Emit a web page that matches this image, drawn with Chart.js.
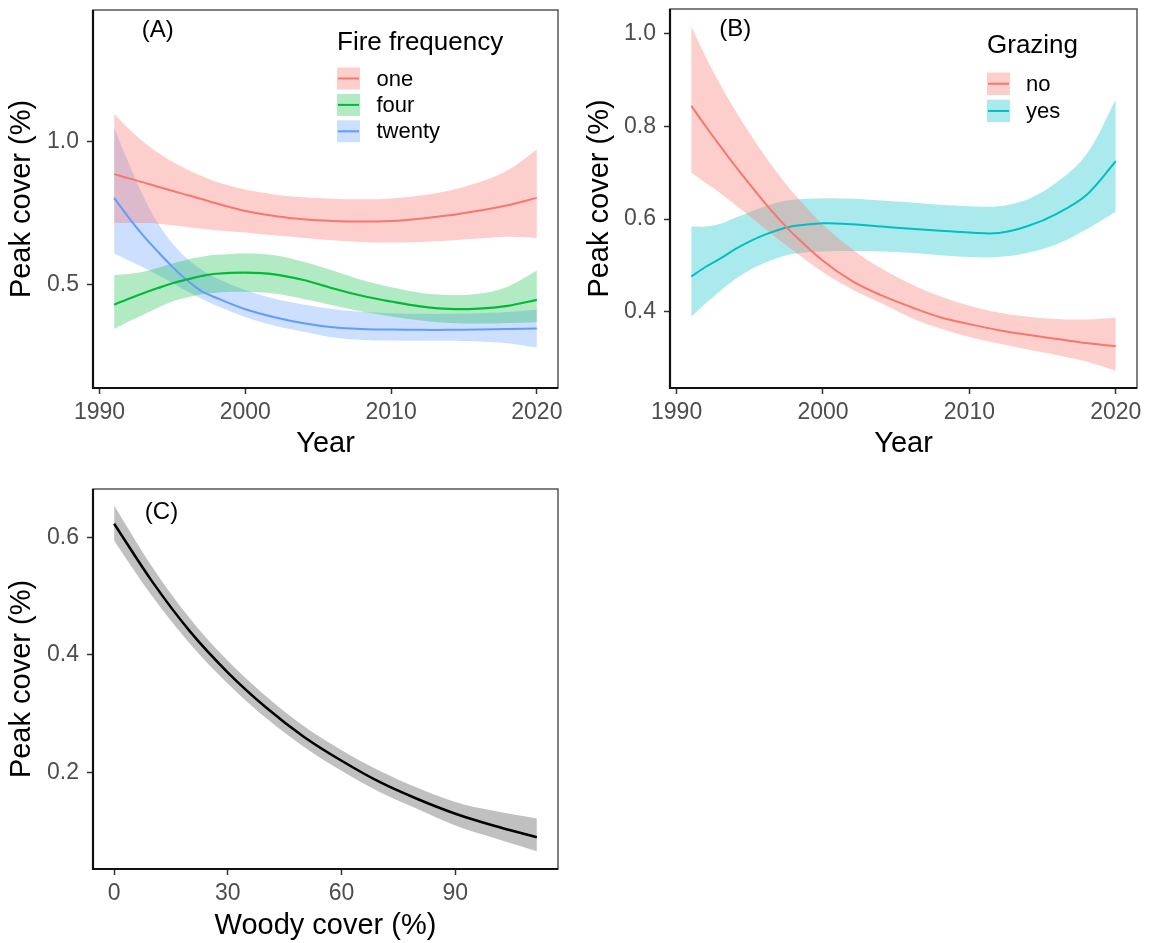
<!DOCTYPE html>
<html>
<head>
<meta charset="utf-8">
<script src="https://cdn.jsdelivr.net/npm/chart.js@4.4.1/dist/chart.umd.min.js"></script>
<style>
  html, body { margin: 0; padding: 0; background: #ffffff; }
  #wrap { position: relative; width: 1150px; height: 943px; overflow: hidden; background: #ffffff; }
  canvas { position: absolute; }
</style>
</head>
<body>
<div id="wrap">
  <canvas id="panelA" width="575" height="470" style="left:0px;top:0px;width:575px;height:470px"></canvas>
  <canvas id="panelB" width="575" height="470" style="left:575px;top:0px;width:575px;height:470px"></canvas>
  <canvas id="panelC" width="575" height="473" style="left:0px;top:470px;width:575px;height:473px"></canvas>
</div>
<script>
// ---- fitted values ----
const years = [1991, 1992, 1993, 1994, 1995, 1996, 1997, 1998, 2000, 2002, 2004, 2006, 2008, 2010, 2012, 2014, 2016, 2018, 2020];

// (A) fire frequency
const fireLevels = ['one', 'four', 'twenty'];
const oneFit    = [0.887, 0.872, 0.858, 0.843, 0.829, 0.814, 0.800, 0.785, 0.758, 0.741, 0.729, 0.723, 0.721, 0.723, 0.731, 0.743, 0.759, 0.778, 0.804];
const oneLower  = [0.716, 0.716, 0.716, 0.714, 0.708, 0.702, 0.696, 0.691, 0.683, 0.673, 0.664, 0.656, 0.650, 0.648, 0.650, 0.655, 0.662, 0.668, 0.664];
const oneUpper  = [1.097, 1.045, 1.000, 0.962, 0.930, 0.903, 0.880, 0.860, 0.833, 0.816, 0.806, 0.801, 0.799, 0.802, 0.812, 0.830, 0.858, 0.900, 0.973];
const fourFit   = [0.431, 0.452, 0.471, 0.489, 0.506, 0.519, 0.531, 0.539, 0.543, 0.537, 0.517, 0.488, 0.462, 0.442, 0.425, 0.416, 0.417, 0.427, 0.448];
const fourLower = [0.346, 0.372, 0.396, 0.420, 0.442, 0.456, 0.467, 0.473, 0.476, 0.470, 0.451, 0.429, 0.407, 0.390, 0.376, 0.367, 0.365, 0.367, 0.370];
const fourUpper = [0.535, 0.538, 0.546, 0.560, 0.575, 0.588, 0.598, 0.605, 0.610, 0.604, 0.581, 0.550, 0.517, 0.492, 0.473, 0.465, 0.469, 0.494, 0.550];
const twentyFit   = [0.804, 0.735, 0.672, 0.616, 0.563, 0.516, 0.478, 0.455, 0.415, 0.387, 0.366, 0.352, 0.346, 0.344, 0.343, 0.343, 0.344, 0.346, 0.348];
const twentyLower = [0.610, 0.585, 0.561, 0.535, 0.507, 0.478, 0.452, 0.428, 0.388, 0.357, 0.336, 0.316, 0.308, 0.306, 0.305, 0.305, 0.302, 0.296, 0.281];
const twentyUpper = [1.050, 0.925, 0.810, 0.715, 0.645, 0.592, 0.553, 0.524, 0.482, 0.452, 0.432, 0.416, 0.406, 0.401, 0.399, 0.399, 0.401, 0.405, 0.413];

// (B) grazing
const grazingLevels = ['no', 'yes'];
const noFit    = [0.845, 0.800, 0.757, 0.715, 0.675, 0.636, 0.600, 0.567, 0.510, 0.466, 0.435, 0.410, 0.388, 0.373, 0.360, 0.350, 0.341, 0.332, 0.325];
const noLower  = [0.700, 0.678, 0.656, 0.631, 0.606, 0.580, 0.555, 0.531, 0.485, 0.448, 0.418, 0.387, 0.364, 0.345, 0.331, 0.318, 0.306, 0.292, 0.272];
const noUpper  = [1.016, 0.950, 0.890, 0.835, 0.785, 0.738, 0.695, 0.656, 0.588, 0.535, 0.493, 0.460, 0.433, 0.413, 0.398, 0.389, 0.384, 0.383, 0.387];
const yesFit   = [0.476, 0.497, 0.515, 0.535, 0.552, 0.566, 0.577, 0.585, 0.591, 0.589, 0.584, 0.579, 0.575, 0.571, 0.570, 0.585, 0.612, 0.652, 0.725];
const yesLower = [0.389, 0.418, 0.445, 0.470, 0.490, 0.505, 0.517, 0.525, 0.530, 0.531, 0.530, 0.527, 0.522, 0.518, 0.518, 0.527, 0.546, 0.578, 0.616];
const yesUpper = [0.584, 0.584, 0.590, 0.603, 0.615, 0.627, 0.637, 0.642, 0.645, 0.644, 0.640, 0.636, 0.631, 0.628, 0.628, 0.643, 0.680, 0.740, 0.858];

// (C) woody cover
const woodyCover = [0, 10, 20, 30, 40, 50, 60, 70, 80, 90, 100, 111.5];
const woodyFit   = [0.623, 0.525, 0.440, 0.370, 0.311, 0.261, 0.220, 0.184, 0.155, 0.130, 0.110, 0.090];
const woodyLower = [0.594, 0.500, 0.419, 0.351, 0.293, 0.244, 0.203, 0.167, 0.138, 0.110, 0.089, 0.066];
const woodyUpper = [0.654, 0.550, 0.462, 0.390, 0.330, 0.279, 0.238, 0.203, 0.174, 0.150, 0.135, 0.122];

// axis ticks
const yearTicks = [1990, 2000, 2010, 2020];
const coverTicksA = [0.5, 1.0];
const coverTicksB = [0.4, 0.6, 0.8, 1.0];
const coverTicksC = [0.2, 0.4, 0.6];
const woodyTicks = [0, 30, 60, 90];

// ---- styling ----
const FONT = '"Liberation Sans", Arial, Helvetica, sans-serif';
const COL = { red: '#F8766D', green: '#00BA38', blue: '#619CFF', teal: '#00BFC4', black: '#000000' };
const FILL = {
  red: 'rgba(248,118,109,0.35)',
  green: 'rgba(0,186,56,0.30)',
  blue: 'rgba(97,156,255,0.32)',
  teal: 'rgba(0,191,196,0.33)',
  grey: 'rgba(150,150,150,0.6)'
};
const SMOOTH = 0.35;

function series(xs, ys) { return xs.map((x, i) => ({ x: x, y: ys[i] })); }

function ribbon(xs, lower, upper, fill) {
  const common = { borderWidth: 0, borderColor: 'rgba(0,0,0,0)', pointRadius: 0, tension: SMOOTH };
  return [
    Object.assign({ data: series(xs, upper), backgroundColor: fill, fill: '+1' }, common),
    Object.assign({ data: series(xs, lower), fill: false }, common)
  ];
}

function fitLine(xs, ys, color, width) {
  return { data: series(xs, ys), borderColor: color, borderWidth: width, fill: false, pointRadius: 0, tension: SMOOTH };
}

function axis(min, max, tickValues, fmt, size, horizontal) {
  return {
    type: 'linear', min: min, max: max,
    afterBuildTicks: s => { s.ticks = tickValues.map(v => ({ value: v })); },
    afterFit: s => {
      if (horizontal) { s.height = size; } else { s.width = size; }
      s.paddingTop = 0; s.paddingBottom = 0; s.paddingLeft = 0; s.paddingRight = 0;
    },
    ticks: { callback: fmt, font: { family: FONT, size: 23 }, color: '#4D4D4D', padding: horizontal ? 5 : 8, autoSkip: false, maxRotation: 0 },
    grid: { display: true, drawOnChartArea: false, drawTicks: true, tickLength: 6, tickColor: '#333333', tickWidth: 1.5 },
    border: { display: false }
  };
}

// frame, axis lines, titles, panel tag and legend
const panelDecor = {
  id: 'panelDecor',
  afterDraw(chart, args, o) {
    const ctx = chart.ctx, a = chart.chartArea, xs = chart.scales.x, ys = chart.scales.y;
    ctx.save();
    ctx.strokeStyle = '#555555';
    ctx.lineWidth = 1.5;
    ctx.strokeRect(a.left, a.top, a.right - a.left, a.bottom - a.top);
    ctx.strokeStyle = '#111111';
    ctx.lineWidth = 2.2;
    ctx.beginPath();
    ctx.moveTo(a.left, a.top);
    ctx.lineTo(a.left, a.bottom);
    ctx.lineTo(a.right, a.bottom);
    ctx.stroke();

    ctx.fillStyle = '#000000';
    ctx.font = '24px ' + FONT;
    ctx.textAlign = 'center';
    ctx.textBaseline = 'middle';
    ctx.fillText(o.tag, xs.getPixelForValue(o.tagAt[0]), ys.getPixelForValue(o.tagAt[1]));

    ctx.font = '29px ' + FONT;
    ctx.textBaseline = 'alphabetic';
    ctx.fillText(o.xTitle, (a.left + a.right) / 2, o.xTitleY);
    ctx.save();
    ctx.translate(o.yTitleX, (a.top + a.bottom) / 2);
    ctx.rotate(-Math.PI / 2);
    ctx.fillText(o.yTitle, 0, 0);
    ctx.restore();

    const lg = o.legend;
    if (lg) {
      const x0 = a.left + lg.dx;
      ctx.textAlign = 'left';
      ctx.font = '26px ' + FONT;
      ctx.fillText(lg.title, x0, lg.titleY);
      ctx.font = '22px ' + FONT;
      lg.labels.forEach((lab, i) => {
        const top = lg.keyTop + i * lg.step;
        ctx.fillStyle = '#ffffff';
        ctx.fillRect(x0, top, lg.keyW, lg.keyH);
        ctx.fillStyle = lg.fills[i];
        ctx.fillRect(x0, top, lg.keyW, lg.keyH);
        ctx.strokeStyle = lg.lines[i];
        ctx.lineWidth = 2;
        ctx.beginPath();
        ctx.moveTo(x0 + 1, top + lg.keyH / 2);
        ctx.lineTo(x0 + lg.keyW - 1, top + lg.keyH / 2);
        ctx.stroke();
        ctx.fillStyle = '#000000';
        ctx.textBaseline = 'middle';
        ctx.fillText(lab, x0 + lg.textDx, top + lg.keyH / 2 + 1);
      });
    }
    ctx.restore();
  }
};

function makeChart(id, datasets, pad, xAxis, yAxis, decor) {
  return new Chart(document.getElementById(id), {
    type: 'line',
    data: { datasets: datasets },
    options: {
      responsive: false, animation: false, devicePixelRatio: 1,
      layout: { padding: pad },
      elements: { point: { radius: 0 } },
      plugins: { legend: { display: false }, tooltip: { enabled: false }, filler: { drawTime: 'beforeDatasetsDraw' }, panelDecor: decor },
      scales: { x: xAxis, y: yAxis }
    },
    plugins: [panelDecor]
  });
}

const fmtYear = v => String(v);
const fmt1 = v => Number(v).toFixed(1);
const fmt0 = v => String(v);

// Panel A
makeChart('panelA',
  [].concat(
    ribbon(years, oneLower, oneUpper, FILL.red),
    ribbon(years, fourLower, fourUpper, FILL.green),
    ribbon(years, twentyLower, twentyUpper, FILL.blue),
    [fitLine(years, oneFit, COL.red, 2), fitLine(years, fourFit, COL.green, 2.2), fitLine(years, twentyFit, COL.blue, 2)]
  ),
  { left: 0, top: 10, right: 17, bottom: 0 },
  axis(1989.55, 2021.45, yearTicks, fmtYear, 82, true),
  axis(0.14, 1.46, coverTicksA, fmt1, 93, false),
  {
    tag: '(A)', tagAt: [1994, 1.39], xTitle: 'Year', xTitleY: 452, yTitle: 'Peak cover (%)', yTitleX: 30,
    legend: { title: 'Fire frequency', labels: fireLevels, lines: [COL.red, COL.green, COL.blue], fills: [FILL.red, FILL.green, FILL.blue],
      dx: 244, titleY: 50, keyTop: 67.5, step: 26.4, keyW: 23, keyH: 22, textDx: 39.5 }
  }
);

// Panel B
makeChart('panelB',
  [].concat(
    ribbon(years, noLower, noUpper, FILL.red),
    ribbon(years, yesLower, yesUpper, FILL.teal),
    [fitLine(years, noFit, COL.red, 2), fitLine(years, yesFit, COL.teal, 2)]
  ),
  { left: 0, top: 9, right: 13, bottom: 0 },
  axis(1989.55, 2021.45, yearTicks, fmtYear, 82, true),
  axis(0.235, 1.054, coverTicksB, fmt1, 95, false),
  {
    tag: '(B)', tagAt: [1994, 1.009], xTitle: 'Year', xTitleY: 452, yTitle: 'Peak cover (%)', yTitleX: 33,
    legend: { title: 'Grazing', labels: grazingLevels, lines: [COL.red, COL.teal], fills: [FILL.red, FILL.teal],
      dx: 317, titleY: 53, keyTop: 72.5, step: 27.2, keyW: 23, keyH: 22.5, textDx: 39 }
  }
);

// Panel C
makeChart('panelC',
  [].concat(
    ribbon(woodyCover, woodyLower, woodyUpper, FILL.grey),
    [fitLine(woodyCover, woodyFit, COL.black, 2.5)]
  ),
  { left: 0, top: 19, right: 17, bottom: 0 },
  axis(-5.575, 117.075, woodyTicks, fmt0, 74, true),
  axis(0.036, 0.682, coverTicksC, fmt1, 93, false),
  {
    tag: '(C)', tagAt: [12.5, 0.642], xTitle: 'Woody cover (%)', xTitleY: 464, yTitle: 'Peak cover (%)', yTitleX: 30,
    legend: null
  }
);
</script>
</body>
</html>
